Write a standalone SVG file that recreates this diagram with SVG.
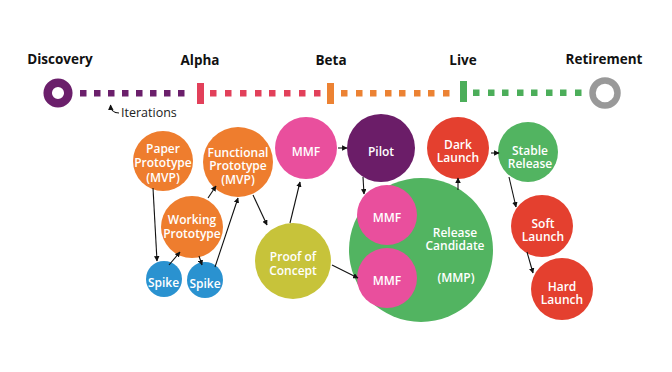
<svg xmlns="http://www.w3.org/2000/svg" width="672" height="372" viewBox="0 0 672 372">
<defs>
<marker id="ah" viewBox="0 0 10 10" refX="9" refY="5" markerWidth="5" markerHeight="5" orient="auto-start-reverse">
<path d="M0,0 L10,5 L0,10 z" fill="#111"/>
</marker>
<style>
.stage{font-family:"Open Sans","Liberation Sans",sans-serif;font-weight:bold;font-size:13.5px;fill:#111;text-anchor:middle}
.nt{font-family:"Open Sans","Liberation Sans",sans-serif;font-weight:600;font-size:12px;fill:#fff;text-anchor:middle}
.conn{stroke:#111;stroke-width:1.1;fill:none;marker-end:url(#ah)}
.sqP{fill:#6b1f6b}.sqR{fill:#e2405a}.sqO{fill:#ec8233}.sqG{fill:#4cae5a}
</style>
</defs>
<rect width="672" height="372" fill="#fff"/>
<g id="timeline">
<text class="stage" x="60" y="64">Discovery</text>
<text class="stage" x="200" y="65">Alpha</text>
<text class="stage" x="331" y="65">Beta</text>
<text class="stage" x="463" y="65">Live</text>
<text class="stage" x="604" y="64">Retirement</text>
<circle cx="58" cy="93" r="10.3" fill="none" stroke="#6b1f6b" stroke-width="8.5"/>
<circle cx="605" cy="93" r="12.5" fill="none" stroke="#999" stroke-width="6.5"/>
<g class="sqP">
<rect x="80" y="90" width="6.5" height="6.5"/><rect x="94" y="90" width="6.5" height="6.5"/><rect x="108" y="90" width="6.5" height="6.5"/><rect x="122" y="90" width="6.5" height="6.5"/><rect x="136" y="90" width="6.5" height="6.5"/><rect x="150" y="90" width="6.5" height="6.5"/><rect x="164" y="90" width="6.5" height="6.5"/><rect x="178" y="90" width="6.5" height="6.5"/>
</g>
<rect class="sqR" x="197" y="83" width="7" height="21"/>
<g class="sqR">
<rect x="210" y="90" width="6.5" height="6.5"/><rect x="225" y="90" width="6.5" height="6.5"/><rect x="240" y="90" width="6.5" height="6.5"/><rect x="255" y="90" width="6.5" height="6.5"/><rect x="269" y="90" width="6.5" height="6.5"/><rect x="284" y="90" width="6.5" height="6.5"/><rect x="299" y="90" width="6.5" height="6.5"/><rect x="314" y="90" width="6.5" height="6.5"/>
</g>
<rect class="sqO" x="327" y="83" width="7" height="21"/>
<g class="sqO">
<rect x="341" y="90" width="6.5" height="6.5"/><rect x="356" y="90" width="6.5" height="6.5"/><rect x="370" y="90" width="6.5" height="6.5"/><rect x="385" y="90" width="6.5" height="6.5"/><rect x="399" y="90" width="6.5" height="6.5"/><rect x="414" y="90" width="6.5" height="6.5"/><rect x="428" y="90" width="6.5" height="6.5"/><rect x="443" y="90" width="6.5" height="6.5"/>
</g>
<rect class="sqG" x="460" y="81" width="7" height="21"/>
<g class="sqG">
<rect x="473" y="89.5" width="6.5" height="6.5"/><rect x="488" y="89.5" width="6.5" height="6.5"/><rect x="502" y="89.5" width="6.5" height="6.5"/><rect x="517" y="89.5" width="6.5" height="6.5"/><rect x="531" y="89.5" width="6.5" height="6.5"/><rect x="546" y="89.5" width="6.5" height="6.5"/><rect x="560" y="89.5" width="6.5" height="6.5"/><rect x="575" y="89.5" width="6.5" height="6.5"/>
</g>
<path d="M119,113 Q111,113 110.5,105" stroke="#111" stroke-width="1.1" fill="none" marker-end="url(#ah)"/>
<text x="121" y="117" font-family="'Open Sans','Liberation Sans',sans-serif" font-size="12.5" fill="#222">Iterations</text>
</g>
<g id="n-release-candidate"><circle cx="421" cy="250" r="72" fill="#52b461"/><text class="nt" x="455" y="236.5">Release</text><text class="nt" x="455" y="250">Candidate</text><text class="nt" x="456" y="281.5">(MMP)</text></g>
<g id="n-paper"><circle cx="163" cy="161" r="30" fill="#ee7d2e"/><text class="nt" x="163" y="152.5">Paper</text><text class="nt" x="163" y="167">Prototype</text><text class="nt" x="163" y="181.5">(MVP)</text></g>
<g id="n-functional"><circle cx="238" cy="162" r="35" fill="#ee7d2e"/><text class="nt" x="238" y="156.5">Functional</text><text class="nt" x="238" y="170">Prototype</text><text class="nt" x="238" y="183.5">(MVP)</text></g>
<g id="n-working"><circle cx="192" cy="227" r="31" fill="#ee7d2e"/><text class="nt" x="192" y="223.5">Working</text><text class="nt" x="192" y="237.5">Prototype</text></g>
<g id="n-spike1"><circle cx="164" cy="279" r="18" fill="#2a92d0"/><text class="nt" x="163.5" y="287">Spike</text></g>
<g id="n-spike2"><circle cx="205" cy="280" r="18" fill="#2a92d0"/><text class="nt" x="205" y="288">Spike</text></g>
<g id="n-mmf-top"><circle cx="306" cy="148" r="31" fill="#e94f9d"/><text class="nt" x="306" y="156">MMF</text></g>
<g id="n-poc"><circle cx="293" cy="261" r="38" fill="#c7c33a"/><text class="nt" x="293" y="261">Proof of</text><text class="nt" x="293" y="275">Concept</text></g>
<g id="n-pilot"><circle cx="381" cy="148" r="34" fill="#6b1d68"/><text class="nt" x="381" y="156">Pilot</text></g>
<g id="n-mmf-mid"><circle cx="387" cy="215" r="30" fill="#e94f9d"/><text class="nt" x="387" y="222">MMF</text></g>
<g id="n-mmf-bot"><circle cx="387" cy="278" r="30" fill="#e94f9d"/><text class="nt" x="387" y="285">MMF</text></g>
<g id="n-dark"><circle cx="458" cy="148" r="31" fill="#e4402f"/><text class="nt" x="458" y="148.5">Dark</text><text class="nt" x="458" y="161.5">Launch</text></g>
<g id="n-stable"><circle cx="528" cy="152" r="30" fill="#52b461"/><text class="nt" x="530" y="154.5">Stable</text><text class="nt" x="530" y="167.5">Release</text></g>
<g id="n-soft"><circle cx="542" cy="226" r="31" fill="#e4402f"/><text class="nt" x="543" y="227.5">Soft</text><text class="nt" x="543" y="240.5">Launch</text></g>
<g id="n-hard"><circle cx="562" cy="289" r="31" fill="#e4402f"/><text class="nt" x="562" y="290.5">Hard</text><text class="nt" x="562" y="303.5">Launch</text></g>
<g id="connectors">
<line class="conn" x1="153" y1="188" x2="157" y2="261"/>
<line class="conn" x1="169" y1="265" x2="180" y2="252"/>
<line class="conn" x1="199" y1="256" x2="202" y2="265"/>
<line class="conn" x1="208" y1="198" x2="216" y2="186"/>
<line class="conn" x1="215" y1="267" x2="238" y2="198"/>
<line class="conn" x1="253" y1="195" x2="267" y2="225"/>
<line class="conn" x1="290" y1="223" x2="300" y2="182"/>
<line class="conn" x1="332" y1="265" x2="358" y2="278"/>
<line class="conn" x1="338" y1="148" x2="347" y2="148"/>
<line class="conn" x1="363" y1="177" x2="364" y2="194"/>
<line class="conn" x1="458" y1="190" x2="458" y2="178"/>
<line class="conn" x1="491" y1="153" x2="499" y2="153"/>
<line class="conn" x1="509" y1="177" x2="516" y2="207"/>
<line class="conn" x1="527" y1="252" x2="533" y2="273"/>
</g>
</svg>
